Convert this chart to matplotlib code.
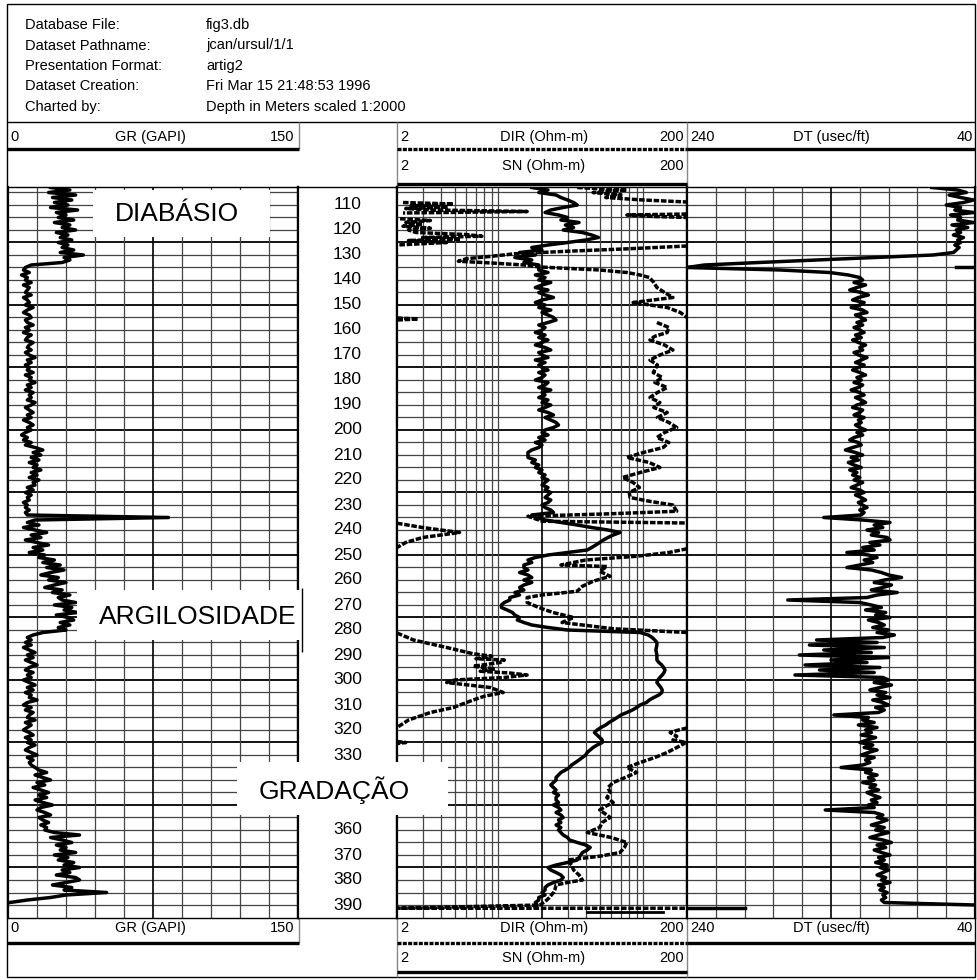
import matplotlib.pyplot as plt
import numpy as np
from matplotlib.patches import Rectangle

plt.rcParams['font.family'] = ['Liberation Sans', 'DejaVu Sans']

W, H = 978, 980

# DADOS
# -----
header_keys = ['Database File:', 'Dataset Pathname:', 'Presentation Format:',
               'Dataset Creation:', 'Charted by:']
header_vals = ['fig3.db', 'jcan/ursul/1/1', 'artig2',
               'Fri Mar 15 21:48:53 1996', 'Depth in Meters scaled 1:2000']

# 340 e 350 ficam escondidos pelo rotulo GRADAÇÃO
depth_labels = [110, 120, 130, 140, 150, 160, 170, 180, 190, 200, 210, 220, 230,
                240, 250, 260, 270, 280, 290, 300, 310, 320, 330, 360, 370, 380, 390]

# GR (GAPI), uma amostra por metro a partir de 103 m
gr_values = [
    22, 32, 21, 35, 23, 33, 24, 31, 22, 36, 25, 30, 26, 34, 24, 32, 28, 35, 25, 31,
    27, 33, 26, 31, 28, 34, 27, 39, 29, 32, 28,
    12, 9,
    8, 11, 7, 10, 9, 12, 8, 11, 10, 9, 12, 8, 10, 11, 9, 13, 10, 8, 11, 12,
    9, 10, 13, 9, 11, 8, 12, 10, 9, 13, 11, 10, 12, 9, 11, 14, 10, 12, 9, 11,
    10, 13, 9, 12, 11, 14, 10, 12, 9, 13, 11, 12, 10, 14, 12, 9, 11, 13, 10, 12,
    8, 11, 13, 10, 12, 9, 7, 10, 8, 12,
    9, 14, 18, 13, 17, 12, 16, 11, 15, 13, 17, 12, 15, 11, 16, 13, 14, 10, 13, 9,
    12, 10, 11, 8, 10, 9, 11, 9,
    10, 83, 14,
    10, 16, 8, 14, 20, 12, 17, 9, 15, 21, 13, 18, 11, 19,
    16, 24, 18, 27, 20, 29, 22, 17, 26, 21, 30, 24, 19, 28, 23, 32, 26,
    28, 35, 24, 33, 29, 36, 25, 31, 34, 27, 32, 26, 30,
    18, 13, 10, 12,
    9, 12, 8, 11, 14, 10, 13, 9, 12, 15, 11, 9, 13, 10, 12, 8, 11, 14, 10, 13,
    9, 12, 11, 15, 10, 8, 12, 9, 13, 11, 10, 14, 9, 12, 10, 8, 11, 13, 9, 12,
    10, 14, 11, 9, 12, 15, 10, 13, 11, 12, 14,
    16, 20, 14, 18, 22, 15, 19, 13, 17, 21, 16, 20, 14, 18, 23, 17, 15, 19, 22, 16,
    18, 21, 17, 20, 19,
    24, 37, 22, 28, 33, 25, 30, 27, 35, 24, 31, 26, 34, 29, 37, 28, 32, 25, 35, 37,
    30, 23, 33, 29,
    51, 30, 22, 10, 1,
]

# DT (usec/ft), uma amostra por metro a partir de 103 m
dt_values = [
    70, 52, 46, 58, 50, 41, 48, 60, 50, 54, 41, 57, 50, 52, 41, 56, 45, 53, 50, 55,
    48, 52, 50, 54, 51, 53, 55,
    69, 110, 150, 190, 228, 240, 175, 141, 128, 120,
    118, 124, 116, 122, 127, 119, 114, 121, 125, 117, 120, 126, 118, 115, 123, 119, 116, 122, 118, 124,
    120, 117, 123, 119, 125, 121, 116, 120, 118, 124, 121, 115, 119, 123, 117, 121, 125, 120, 116, 122,
    119, 124, 118, 121, 126, 120, 117, 123, 119, 116, 122, 125, 118, 120, 124, 117, 121, 119, 123, 120,
    116, 122, 118, 124, 127, 121, 119, 125, 130, 123, 118, 126, 121, 128, 124, 119, 127, 122, 125, 120,
    124, 118, 122, 126, 120, 117, 123, 119, 116, 121, 118, 115, 120, 117,
    119, 145, 118,
    99, 110, 104, 115, 107, 112, 101, 99, 113, 106, 118, 110, 129, 114, 108, 117, 111, 120, 129, 112,
    105, 100, 91, 103, 110, 98, 104, 112, 94, 108,
    115, 170, 120,
    112, 105, 116, 102, 109, 99, 114, 107, 103, 111, 100, 108, 96, 104,
    150, 108, 155, 103, 145, 112, 162, 100, 140, 115, 158, 106, 148, 110, 165, 104,
    100, 110, 98, 106, 113, 102, 108, 99, 111, 104, 100, 109, 103, 107,
    138,
    114, 118, 110, 121, 108, 116, 112, 119, 109, 115, 120, 111, 117, 108, 114, 119, 110, 116, 113, 118,
    133,
    112, 116, 108, 114, 110, 118, 109, 113, 107, 115, 111, 106, 112, 108, 114, 110,
    144,
    110, 104, 108, 101, 106, 112, 103, 109, 100, 107, 113, 104, 98, 108, 102, 110, 105, 99, 107, 103,
    109, 101, 106, 100, 104, 108, 102, 105, 99, 107, 103, 106, 101, 104, 102, 105, 103,
    40,
]
# trechos de DT fora de escala (retorno pelo outro lado)
dt_wrap_depth = [134.8, 134.8, np.nan, 391.3, 391.3]
dt_wrap_values = [53, 40, np.nan, 240, 200]

# SN (Ohm-m), uma amostra por metro a partir de 103 m
sn_values = [
    17, 22, 19, 25, 27, 30, 33, 35, 28, 23, 21, 26, 30, 27, 36, 29, 33, 28, 38, 44,
    49, 40, 30, 22, 17, 20, 14, 18, 13, 17, 15, 19, 19,
    19, 22, 18, 21, 19, 23, 20, 18, 22, 19, 21, 24, 20, 18, 21, 19, 23, 20, 22, 24, 25, 22, 19, 21, 20,
    18, 21, 19, 22, 20, 18, 21, 23, 19, 20, 22, 18, 21, 19, 20, 22, 19, 21, 20, 18, 22, 21, 19, 23, 20,
    21, 19, 22, 20, 23, 21, 19, 22, 24, 21, 23, 25, 26, 24, 21, 20, 22, 19, 21, 18, 20, 19, 17, 16, 16,
    16, 18, 17, 19, 18, 20, 19, 21, 20, 22, 21, 20, 22, 21, 23, 22, 21, 23, 22, 20, 21, 23,
    24, 17, 18, 21, 27, 35, 44, 57, 69, 62, 57, 53, 50, 47, 44, 41, 30, 22, 18, 16,
    17, 15, 15, 16, 14, 16, 17, 15, 17, 15, 14, 15, 13, 14, 12, 12, 11, 10.5, 10.5, 11.5,
    12.5, 13, 14, 13.5, 15, 17, 22, 30,
    95, 108, 115, 120, 124, 124, 123, 122, 123, 124, 124, 124, 128, 134, 138, 141, 139, 135, 130, 126,
    124, 128, 132, 135, 134, 128, 118, 110, 105, 95,
    90, 84, 77, 70, 66, 62, 58, 55, 51, 48, 46, 48, 50, 52, 52, 48, 45, 43, 41, 40,
    38, 36, 34, 32, 31, 29, 27, 26, 25, 25,
    24, 23, 24, 25, 24, 26, 25, 25, 26, 24, 26, 27, 25, 27, 28, 26, 27, 25, 27, 26,
    27, 28, 30, 31, 35, 40, 43, 41, 38, 37, 36, 35, 30, 25, 22, 23, 25, 27, 28, 27,
    24, 22, 21, 21, 20, 21, 19, 19, 18, 18.5, 18,
]
sn_tail_depth = [392.8, 392.8]
sn_tail_values = [41, 137]

# DIR (Ohm-m): profundidade / valor lido; nan separa os trechos que saem da escala
dir_depth = [
    103, 104, 105, 106, 107, 108, 108.8, np.nan,
    109, 109.6, 110.2, 110.8, 111.4, 112.0, 112.6, 113.2, np.nan,
    113.6, 114.0, 114.6, 115.0, np.nan,
    115.5, 116.2, 117.0, 117.8, 118.5, 119.3, 120.0, 121.0, 121.8, 122.5, 123.0, 123.6, 124.2, 125.0, 126.0, np.nan,
    126.4, 127.5, 128.5, 129.5, 130.5, 131.5, 132.5, 133.2, 134.0, 134.8, 136, 137, 138, 139, 141, 143,
    145, 147, 149, 151, 153, 155, np.nan,
    155.2, 155.6, 156.0, np.nan,
    157, 159, 161, 162.5, 164, 166, 168, 170, 172, 174, 177, 179, 181, 183, 185, 187, 189, 191, 193,
    195, 197, 199, 201, 203, 205, 207, 209, 211, 213, 215, 217, 219, 221, 223, 225, 227, 228.5, 230,
    232.5, 233.5, 234.5, 236, 236.5, 237.2, np.nan,
    237.3, 239, 241, 243, 245, 247, np.nan,
    247.5, 249, 250.5, 252, 254, 254.6, 256.5, 258.5, 260.5, 262.5, 264.5, 266, 267, 269, 271, 273,
    275, 277, 279.5, 281, np.nan,
    281.2, 284, 287, 289.5, 290.5, 291.5, 292, 293, 294.5, 295.5, 296.5, 297.2, 298, 299, 300, 301,
    303, 305, 306.5, 308, 311, 313, 316, 319, np.nan,
    324.6, 325.0, 325.4, np.nan,
    319.2, 320, 321, 322.5, 324, 325, 327, 329, 331, 333, 335, 337, 339, 341, 343, 345, 347, 349,
    350.5, 352, 354, 355, 357, 359, 361, 363, 365, 367, 369, 370.5, 372, 374, 376, 378, 380, 381,
    382, 384, 385, 387, 388, 390, 391.3, 391.3,
]
dir_values = [
    35, 77, 45, 70, 55, 100, 200, np.nan,
    2.2, 4.9, 2.5, 4.5, 2.3, 3.5, 15.8, 2.2, np.nan,
    200, 77, 120, 200, np.nan,
    2.1, 3.4, 2.3, 3.0, 2.2, 3.4, 2.4, 2.7, 6.0, 7.7, 3.0, 5.5, 2.4, 4.4, 2.0, np.nan,
    200, 80, 30, 13, 9, 6, 5.3, 9, 15, 19.4, 50, 77, 95, 110, 118, 124,
    140, 160, 85, 146, 180, 200, np.nan,
    2.0, 2.8, 2.0, np.nan,
    124, 150, 146, 120, 111, 140, 160, 130, 111, 125, 117, 135, 120, 146, 125, 111, 130, 118, 146,
    125, 150, 170, 140, 124, 150, 137, 100, 77, 110, 130, 95, 72, 85, 94, 80, 81, 110, 160,
    170, 60, 16, 19, 20, 200, np.nan,
    2.0, 3.0, 5.4, 3.0, 2.3, 2.0, np.nan,
    200, 150, 90, 40, 27, 56, 50, 59, 45, 38, 35, 20, 15.8, 15.8, 19, 23.8,
    33, 27.5, 62, 200, np.nan,
    2.0, 2.6, 4.4, 6.7, 9.0, 7.0, 11, 10.3, 6.7, 9.5, 7.5, 12, 15.8, 11, 5.0, 4.4,
    8.8, 10.8, 8, 6.7, 4.9, 3.4, 2.4, 2.0, np.nan,
    2.0, 2.3, 2.0, np.nan,
    200, 175, 153, 170, 160, 197, 170, 146, 120, 95, 77, 90, 75, 62, 57, 59, 56, 62,
    55, 50, 56, 59, 52, 50, 41, 60, 77, 74, 69, 50, 30, 32, 33, 36, 38, 30,
    25, 24.5, 24, 22.5, 21.6, 19.4, 2.0, 200,
]

gr_depth = 103 + np.arange(len(gr_values))
dt_depth = 103 + np.arange(len(dt_values))
sn_depth = 103 + np.arange(len(sn_values))

# Figura
# ------
fig = plt.figure(figsize=(W / 100, H / 100), dpi=100)
fig.patch.set_facecolor('white')

def rect(x0, y0, x1, y1):
    return [x0 / W, 1 - y1 / H, (x1 - x0) / W, (y1 - y0) / H]

# eixo da pagina em pixels (bordas, cabecalhos)
page = fig.add_axes([0, 0, 1, 1])
page.set_xlim(0, W)
page.set_ylim(H, 0)
page.axis('off')

def hline(ax, y, x0, x1, **kw):
    ax.plot([x0, x1], [y, y], solid_capstyle='butt', **kw)

def vline(ax, x, y0, y1, **kw):
    ax.plot([x, x], [y0, y1], solid_capstyle='butt', **kw)

page.add_patch(Rectangle((7, 4), 968, 973, fill=False, lw=1.0, ec='black'))
hline(page, 122, 7, 975, color='black', lw=1.0)

fs_small = 10.5
for i, (k, v) in enumerate(zip(header_keys, header_vals)):
    yy = 25 + i * 20.5
    page.text(25, yy, k, fontsize=fs_small, va='center', ha='left')
    page.text(206, yy, v, fontsize=fs_small, va='center', ha='left')

def track_headers(y_row1, y_line1, y_row2, y_line2, y_top, y_bot):
    # GR
    vline(page, 299, y_top, y_line1, color='#888888', lw=1.0)
    page.text(10, y_row1, '0', fontsize=fs_small, va='center', ha='left')
    page.text(150, y_row1, 'GR (GAPI)', fontsize=fs_small, va='center', ha='center')
    page.text(294, y_row1, '150', fontsize=fs_small, va='center', ha='right')
    hline(page, y_line1, 7, 299, color='black', lw=2.4)
    # DIR / SN
    vline(page, 397, y_top, y_bot, color='#888888', lw=1.0)
    vline(page, 687, y_top, y_bot, color='#888888', lw=1.0)
    page.text(400, y_row1, '2', fontsize=fs_small, va='center', ha='left')
    page.text(544, y_row1, 'DIR (Ohm-m)', fontsize=fs_small, va='center', ha='center')
    page.text(684, y_row1, '200', fontsize=fs_small, va='center', ha='right')
    page.plot([397, 687], [y_line1, y_line1], color='black', lw=2.4, ls=(0, (1.2, 0.4)))
    page.text(400, y_row2, '2', fontsize=fs_small, va='center', ha='left')
    page.text(544, y_row2, 'SN (Ohm-m)', fontsize=fs_small, va='center', ha='center')
    page.text(684, y_row2, '200', fontsize=fs_small, va='center', ha='right')
    hline(page, y_line2, 397, 687, color='black', lw=2.4)
    # DT
    page.text(690, y_row1, '240', fontsize=fs_small, va='center', ha='left')
    page.text(831, y_row1, 'DT (usec/ft)', fontsize=fs_small, va='center', ha='center')
    page.text(973, y_row1, '40', fontsize=fs_small, va='center', ha='right')
    hline(page, y_line1, 687, 975, color='black', lw=2.4)

track_headers(137, 149.5, 166, 184, 122, 187)
track_headers(928, 943, 958, 972, 918, 977)

# Trilhas
# -------
y_top_px, y_bot_px = 187.5, 918
d_top, d_bot = 103.0, 395.2

def make_track(x0, x1):
    ax = fig.add_axes(rect(x0, y_top_px, x1, y_bot_px))
    ax.set_ylim(d_bot, d_top)
    ax.set_xticks([])
    ax.set_yticks([])
    for s in ax.spines.values():
        s.set_linewidth(1.0)
    ax.spines['left'].set_linewidth(1.6)
    ax.spines['right'].set_linewidth(1.6)
    return ax

def depth_grid(ax):
    for d in np.arange(105, 395, 5):
        if d % 25 == 0:
            ax.axhline(d, color='black', lw=1.3, zorder=1)
        else:
            ax.axhline(d, color='#444444', lw=0.9, zorder=1)

# GR
ax_gr = make_track(8, 298)
ax_gr.set_xlim(0, 150)
depth_grid(ax_gr)
for xv in np.arange(15, 150, 15):
    ax_gr.axvline(xv, color='black' if xv == 75 else '#444444', lw=1.2 if xv == 75 else 0.9, zorder=1)
ax_gr.plot(gr_values, gr_depth, color='black', lw=2.5, zorder=3)

# Profundidade
ax_dep = make_track(298, 397)
ax_dep.set_xlim(0, 1)
for d in depth_labels:
    ax_dep.text(0.5, d, str(d), fontsize=12.5, ha='center', va='center')

# Resistividade (log)
ax_res = make_track(397, 687)
ax_res.set_xscale('log')
ax_res.set_xlim(2, 200)
ax_res.set_xticks([], minor=True)
ax_res.set_xticks([])
depth_grid(ax_res)
for xv in [3, 4, 5, 6, 7, 8, 9, 10, 20, 30, 40, 50, 60, 70, 80, 90, 100]:
    ax_res.axvline(xv, color='black' if xv == 20 else '#444444', lw=1.2 if xv == 20 else 0.9, zorder=1)
ax_res.plot(sn_values, sn_depth, color='black', lw=2.5, zorder=3)
ax_res.plot(sn_tail_values, sn_tail_depth, color='black', lw=2.0, zorder=3)
ax_res.plot(dir_values, dir_depth, color='black', lw=2.5, ls=(0, (1.6, 0.5)), zorder=3)

# DT (escala invertida)
ax_dt = make_track(687, 975)
ax_dt.set_xlim(240, 40)
depth_grid(ax_dt)
for xv in np.arange(60, 240, 20):
    ax_dt.axvline(xv, color='black' if xv == 140 else '#444444', lw=1.2 if xv == 140 else 0.9, zorder=1)
ax_dt.plot(dt_values, dt_depth, color='black', lw=2.5, zorder=3)
ax_dt.plot(dt_wrap_values, dt_wrap_depth, color='black', lw=2.5, zorder=3)

# Rotulos das zonas
# -----------------
over = fig.add_axes([0, 0, 1, 1], zorder=10)
over.set_xlim(0, W)
over.set_ylim(H, 0)
over.axis('off')

zonas = [('DIABÁSIO', 93, 190, 270, 237, 177, 214),
         ('ARGILOSIDADE', 77, 590, 300, 640, 198, 617),
         ('GRADAÇÃO', 237, 762, 448, 815, 334, 790)]
for nome, x0, y0, x1, y1, xc, yc in zonas:
    over.add_patch(Rectangle((x0, y0), x1 - x0, y1 - y0, fc='white', ec='none'))
    over.text(xc, yc, nome, fontsize=19, ha='center', va='center')
vline(over, 302, 588, 652, color='black', lw=1.0)

fig.savefig('out.png', dpi=100)
